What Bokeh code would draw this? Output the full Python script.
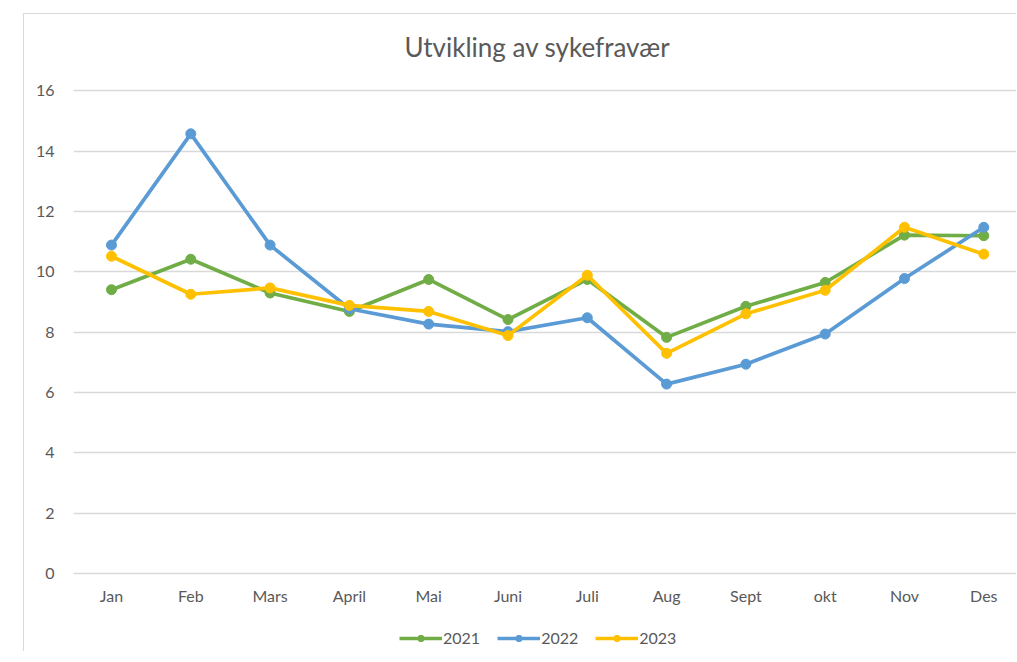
from bokeh.plotting import figure
from bokeh.models import Range1d, FixedTicker, Legend, LegendItem, Label, ColumnDataSource
from bokeh.embed import file_html
from bokeh.resources import INLINE

months = ["Jan", "Feb", "Mars", "April", "Mai", "Juni", "Juli", "Aug", "Sept", "okt", "Nov", "Des"]
s2021 = [9.41, 10.42, 9.30, 8.69, 9.75, 8.42, 9.75, 7.83, 8.86, 9.65, 11.22, 11.20]
s2022 = [10.89, 14.58, 10.89, 8.78, 8.27, 8.02, 8.48, 6.28, 6.94, 7.94, 9.78, 11.48]
s2023 = [10.52, 9.26, 9.47, 8.89, 8.69, 7.89, 9.89, 7.30, 8.61, 9.39, 11.48, 10.59]
series_names = ["2021", "2022", "2023"]
colors = ["#70AD47", "#5B9BD5", "#FFC000"]
y_ticks = [0, 2, 4, 6, 8, 10, 12, 14, 16]
title_text = "Utvikling av sykefravær"

FONT = "Lato"
xs = list(range(len(months)))

p = figure(width=993, height=638, output_backend="svg", toolbar_location=None,
           x_axis_location=None,
           x_range=Range1d(-0.479, 11.425), y_range=Range1d(-2.62, 18.47),
           min_border_left=49, min_border_right=0, min_border_top=2, min_border_bottom=0)
p.margin = (13, 0, 0, 23)
p.styles = {"border-left": "1px solid #d9d9d9", "border-top": "1px solid #d9d9d9"}
p.outline_line_color = None
p.background_fill_color = "white"
p.border_fill_color = "white"

p.xgrid.visible = False
p.ygrid.ticker = FixedTicker(ticks=y_ticks)
p.ygrid.grid_line_color = "#d9d9d9"
p.ygrid.grid_line_width = 1.3

p.yaxis.ticker = FixedTicker(ticks=y_ticks)
ax = p.yaxis[0]
ax.axis_line_color = None
ax.major_tick_line_color = None
ax.minor_tick_line_color = None
ax.major_tick_out = 0
ax.major_tick_in = 0
ax.major_label_text_color = "#595959"
ax.major_label_text_font = FONT
ax.major_label_text_font_size = "16px"
ax.major_label_standoff = 19

# category labels along the bottom, placed through the data scales
src = ColumnDataSource(dict(x=xs, y=[-0.72] * len(xs), t=months))
p.text(x="x", y="y", text="t", source=src, text_align="center", text_baseline="middle",
       text_font={"value": FONT}, text_font_size="16px", text_color="#595959")

items = []
for name, ys, c in zip(series_names, [s2021, s2022, s2023], colors):
    r1 = p.line(xs, ys, line_color=c, line_width=3.7)
    r2 = p.scatter(xs, ys, size=10, fill_color=c, line_color=c)
    items.append(LegendItem(label=name, renderers=[r1, r2]))

legend = Legend(items=items, orientation="horizontal", location=(326, 5),
                label_text_font=FONT, label_text_font_size="16px", label_text_color="#595959",
                glyph_width=43, glyph_height=16, spacing=17, label_standoff=1,
                border_line_color=None, background_fill_alpha=0, padding=0, margin=0)
p.add_layout(legend, "center")

title = Label(x=5.37, y=17.46, text=title_text, text_align="center", text_baseline="middle",
              text_font=FONT, text_font_size="26px", text_color="#595959")
p.add_layout(title)

open("out.html", "w").write(file_html(p, INLINE))
